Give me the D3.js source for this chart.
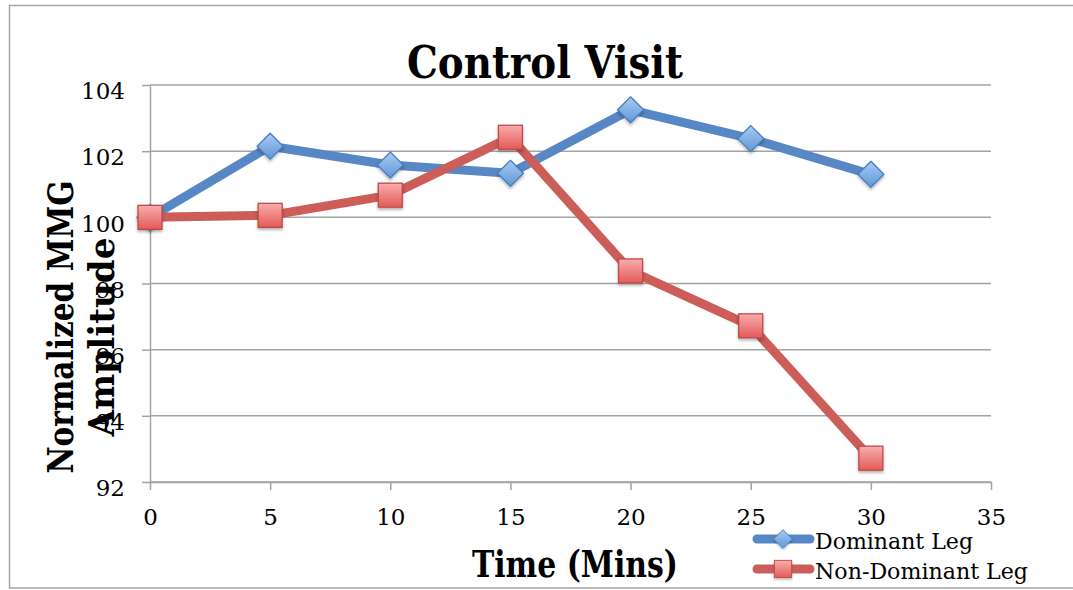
<!DOCTYPE html>
<html>
<head>
<meta charset="utf-8">
<script src="https://cdn.jsdelivr.net/npm/d3@7/dist/d3.min.js"></script>
<style>
  html, body { margin: 0; padding: 0; background: #fff; }
  svg { display: block; }
</style>
</head>
<body>
<svg id="chart" width="1073" height="590"></svg>
<script>
// Time points (minutes) and normalized MMG amplitude per leg
const times = [0, 5, 10, 15, 20, 25, 30];
const dominantLeg = [100, 102.15, 101.58, 101.33, 103.25, 102.38, 101.3];
const nonDominantLeg = [100, 100.06, 100.67, 102.42, 98.38, 96.72, 92.72];
const xTicks = [0, 5, 10, 15, 20, 25, 30, 35];
const yTicks = [92, 94, 96, 98, 100, 102, 104];
const seriesNames = ["Dominant Leg", "Non-Dominant Leg"];

const svg = d3.select("#chart");
const serif = "'DejaVu Serif', serif";

const x = d3.scaleLinear().domain([0, 35]).range([150, 991]);
const y = d3.scaleLinear().domain([92, 104]).range([482, 85]);

// gradients and shadow for the markers
const defs = svg.append("defs");
const gBlue = defs.append("linearGradient").attr("id", "gBlue").attr("x1", 0).attr("y1", 0).attr("x2", 0).attr("y2", 1);
gBlue.append("stop").attr("offset", "0%").attr("stop-color", "#a9cbf2");
gBlue.append("stop").attr("offset", "100%").attr("stop-color", "#5f97da");
const gRed = defs.append("linearGradient").attr("id", "gRed").attr("x1", 0).attr("y1", 0).attr("x2", 0).attr("y2", 1);
gRed.append("stop").attr("offset", "0%").attr("stop-color", "#f7aeac");
gRed.append("stop").attr("offset", "100%").attr("stop-color", "#e35a57");
const shadow = defs.append("filter").attr("id", "shadow").attr("x", "-50%").attr("y", "-50%").attr("width", "200%").attr("height", "200%");
shadow.append("feDropShadow").attr("dx", 0).attr("dy", 2).attr("stdDeviation", 1.5)
  .attr("flood-color", "#000").attr("flood-opacity", 0.3);

// chart frame
svg.append("rect")
  .attr("x", 9.5).attr("y", 5.5).attr("width", 1100).attr("height", 582.5)
  .attr("fill", "none").attr("stroke", "#a6a6a6").attr("stroke-width", 1.5);

// horizontal gridlines
svg.append("g").selectAll("line").data(yTicks).join("line")
  .attr("x1", x(0)).attr("x2", x(35))
  .attr("y1", d => y(d)).attr("y2", d => y(d))
  .attr("stroke", "#a3a3a3").attr("stroke-width", 1.5);

// y axis
const yAxis = svg.append("g").attr("transform", `translate(${x(0)},0)`)
  .call(d3.axisLeft(y).tickValues(yTicks).tickSize(8).tickSizeOuter(0).tickPadding(17));
yAxis.selectAll("text").attr("dy", "0.6em");

// x axis
const xAxis = svg.append("g").attr("transform", `translate(0,${y(92)})`)
  .call(d3.axisBottom(x).tickValues(xTicks).tickSize(8).tickSizeOuter(0).tickPadding(19));

[yAxis, xAxis].forEach(a => {
  a.select(".domain").attr("stroke", "#a3a3a3").attr("stroke-width", 1.5);
  a.selectAll(".tick line").attr("stroke", "#a3a3a3").attr("stroke-width", 1.5);
  a.selectAll("text").attr("font-family", serif).attr("font-size", 23).attr("fill", "#000");
});

// series
const series = [
  { name: seriesNames[0], values: dominantLeg, color: "#5787c4", marker: "diamond" },
  { name: seriesNames[1], values: nonDominantLeg, color: "#cc5d59", marker: "square" }
];

function drawMarker(sel, kind) {
  if (kind === "diamond") {
    sel.append("path").attr("d", "M0,-13L13,0L0,13L-13,0Z")
      .attr("fill", "url(#gBlue)").attr("stroke", "#4a7ebb").attr("stroke-width", 1.3)
      .attr("filter", "url(#shadow)");
  } else {
    sel.append("rect").attr("x", -12).attr("y", -12).attr("width", 24).attr("height", 24)
      .attr("fill", "url(#gRed)").attr("stroke", "#be4b48").attr("stroke-width", 1.3)
      .attr("filter", "url(#shadow)");
  }
}

const line = d3.line().x((d, i) => x(times[i])).y(d => y(d));

series.forEach(s => {
  svg.append("path").datum(s.values)
    .attr("d", line)
    .attr("fill", "none").attr("stroke", s.color)
    .attr("stroke-width", 9).attr("stroke-linejoin", "round").attr("stroke-linecap", "round");
  svg.append("g").selectAll("g").data(s.values).join("g")
    .attr("transform", (d, i) => `translate(${x(times[i])},${y(d)})`)
    .each(function () { drawMarker(d3.select(this), s.marker); });
});

// title
svg.append("text")
  .attr("x", 545).attr("y", 78).attr("text-anchor", "middle")
  .attr("font-family", serif).attr("font-weight", "bold").attr("font-size", 44)
  .attr("textLength", 276).attr("lengthAdjust", "spacingAndGlyphs")
  .text("Control Visit");

// axis titles
svg.append("text")
  .attr("x", 575).attr("y", 577).attr("text-anchor", "middle")
  .attr("font-family", serif).attr("font-weight", "bold").attr("font-size", 37)
  .attr("textLength", 206).attr("lengthAdjust", "spacingAndGlyphs")
  .text("Time (Mins)");

svg.append("text")
  .attr("transform", "translate(73,327) rotate(-90)").attr("text-anchor", "middle")
  .attr("font-family", serif).attr("font-weight", "bold").attr("font-size", 36)
  .attr("textLength", 293).attr("lengthAdjust", "spacingAndGlyphs")
  .text("Normalized MMG");
svg.append("text")
  .attr("transform", "translate(114,337) rotate(-90)").attr("text-anchor", "middle")
  .attr("font-family", serif).attr("font-weight", "bold").attr("font-size", 36)
  .attr("textLength", 199).attr("lengthAdjust", "spacingAndGlyphs")
  .text("Amplitude");

// legend
const legend = svg.append("g");
series.forEach((s, i) => {
  const ly = 539 + i * 30;
  const row = legend.append("g");
  row.append("line").attr("x1", 757).attr("x2", 810).attr("y1", ly).attr("y2", ly)
    .attr("stroke", s.color).attr("stroke-width", 9).attr("stroke-linecap", "round");
  const m = row.append("g").attr("transform", `translate(783,${ly}) scale(0.72)`);
  drawMarker(m, s.marker);
  row.append("text").attr("x", 815).attr("y", ly + 10)
    .attr("font-family", serif).attr("font-size", 23).attr("fill", "#000")
    .attr("textLength", i === 0 ? 158 : 213).attr("lengthAdjust", "spacingAndGlyphs")
    .text(s.name);
});
</script>
</body>
</html>
